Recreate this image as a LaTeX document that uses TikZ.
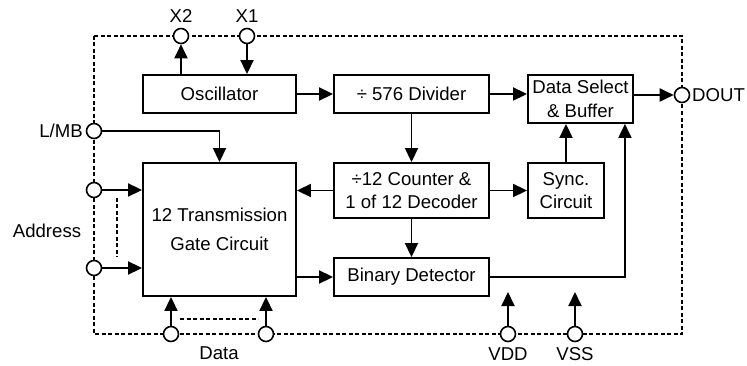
\documentclass[tikz,border=0pt]{standalone}
\usepackage{fontspec}
\setmainfont{Liberation Sans}
\usetikzlibrary{arrows.meta,calc}
\begin{document}
\begin{tikzpicture}[x=1pt,y=-1pt,
  font=\fontsize{18.6}{23.5}\selectfont,
  box/.style={draw,line width=1.9pt,inner sep=0pt,align=center},
  pin/.style={draw,circle,fill=white,line width=1.6pt,minimum size=15pt,inner sep=0pt},
  arr/.style={line width=1.9pt,-{Triangle[length=14pt,width=13pt]}},
  dsh/.style={line width=1.4pt,dash pattern=on 4pt off 2.5pt}]
\useasboundingbox (0,0) rectangle (747,366);
% border
\draw[dsh] (94,36) rectangle (682,334);
% boxes
\node[box,minimum width=153pt,minimum height=38pt] (osc) at (219.5,94) {Oscillator};
\node[box,minimum width=155pt,minimum height=38pt] (div) at (411.5,94) {÷ 576 Divider};
\node[box,minimum width=105pt,minimum height=48pt] (ds) at (580.5,99) {Data Select\\\& Buffer};
\node[box,minimum width=155pt,minimum height=55pt] (cnt) at (411.5,190.5) {÷12 Counter \&\\1 of 12 Decoder};
\node[box,minimum width=76pt,minimum height=55pt] (sync) at (566,190.5) {Sync.\\Circuit};
\node[box,minimum width=153pt,minimum height=133pt] (tr) at (219.5,229.5) {12 Transmission\\[5pt]Gate Circuit};
\node[box,minimum width=155pt,minimum height=38pt] (bin) at (411.5,277) {Binary Detector};
% pins
\node[pin] (x2) at (181,36) {};
\node[pin] (x1) at (247,36) {};
\node[pin] (lmb) at (94,131) {};
\node[pin] (dout) at (682,95) {};
\node[pin] (a1) at (94,190) {};
\node[pin] (a2) at (94,268) {};
\node[pin] (d1) at (171,334) {};
\node[pin] (d2) at (266,334) {};
\node[pin] (vdd) at (508,334) {};
\node[pin] (vss) at (575,334) {};
% labels
\node (lx2) at (181,16) {X2};
\node (lx1) at (247,16) {X1};
\node[anchor=east,inner sep=0pt] (llmb) at (83,131) {L/MB};
\node[anchor=west,inner sep=0pt] (ldout) at (692,95) {DOUT};
\node (laddr) at (47,231) {Address};
\node (ldata) at (219,353) {Data};
\node (lvdd) at (508,354) {VDD};
\node (lvss) at (575,354) {VSS};
% connectors
\draw[arr] (osc.north -| x2) -- (x2.south);
\draw[arr] (x1.south) -- (x1 |- osc.north);
\draw[arr] (osc.east) -- (div.west);
\draw[arr] (div.east) -- (div.east -| ds.west);
\draw[arr] (ds.east |- dout) -- (dout.west);
\draw[arr] (div.south) -- (cnt.north);
\draw[arr] (lmb.east) -| (tr.north);
\draw[arr] (cnt.west) -- (cnt.west -| tr.east);
\draw[arr] (cnt.east) -- (sync.west);
\draw[arr] (sync.north) -- (sync.north |- ds.south);
\draw[arr] (cnt.south) -- (bin.north);
\draw[arr] (tr.east |- bin.west) -- (bin.west);
\draw[arr] (bin.east) -| ([xshift=-9pt]ds.south east);
\draw[arr] (a1.east) -- (a1 -| tr.west);
\draw[arr] (a2.east) -- (a2 -| tr.west);
\draw[arr] (d1.north) -- (d1 |- tr.south);
\draw[arr] (d2.north) -- (d2 |- tr.south);
\coordinate (vddt) at (508,292);
\coordinate (vsst) at (575,292);
\draw[arr] (vdd.north) -- (vddt);
\draw[arr] (vss.north) -- (vsst);
% dashed bus markers
\coordinate (am1) at (117,198);
\coordinate (am2) at (117,257);
\coordinate (dm1) at (180,319);
\coordinate (dm2) at (258,319);
\draw[dsh] (am1) -- (am2);
\draw[dsh] (dm1) -- (dm2);
\end{tikzpicture}
\end{document}
